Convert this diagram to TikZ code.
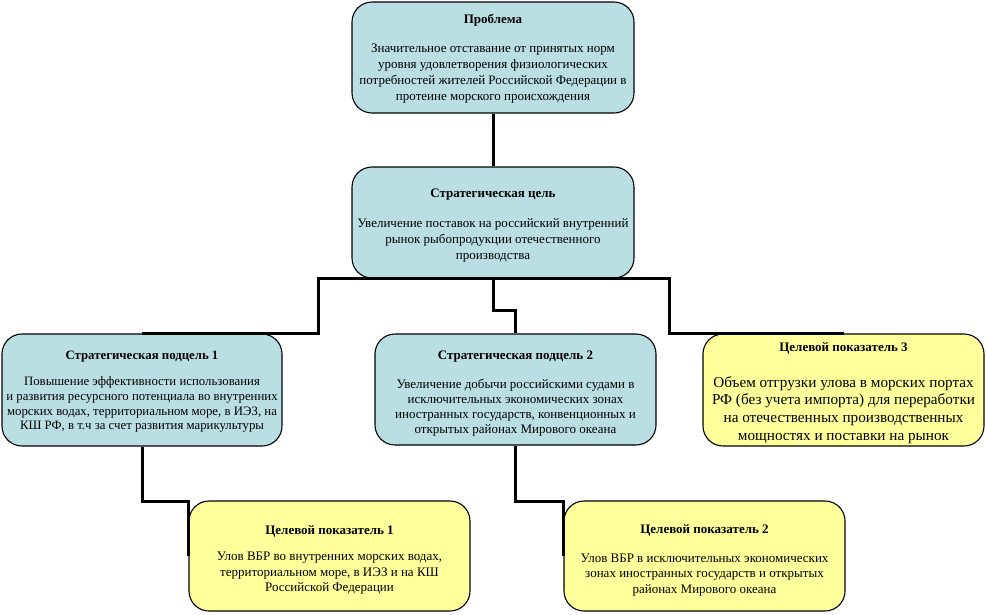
\documentclass[tikz,border=0pt]{standalone}
\usepackage{fontspec}
\setmainfont{Liberation Serif}
\definecolor{boxblue}{RGB}{186,223,227}
\definecolor{boxyellow}{RGB}{255,255,155}
\begin{document}
\begin{tikzpicture}[x=1pt,y=-1pt,
  box/.style={draw=black, line width=1.1pt, rounded corners=20pt, inner sep=0pt},
  bluebox/.style={box, fill=boxblue},
  yellowbox/.style={box, fill=boxyellow},
  txt/.style={align=center, inner sep=0pt, font=\fontsize{13}{15.5}\selectfont},
  conn/.style={draw=black, line width=3pt, line join=miter}]
\useasboundingbox (0,0) rectangle (986,614);

% boxes
\node[bluebox, minimum width=282pt, minimum height=111pt] (prob) at (493,57.5) {};
\node[bluebox, minimum width=282pt, minimum height=111pt] (goal) at (493,222.5) {};
\node[bluebox, minimum width=280pt, minimum height=112pt] (sub1) at (142,390) {};
\node[bluebox, minimum width=281pt, minimum height=111pt] (sub2) at (515.5,389.5) {};
\node[yellowbox, minimum width=281pt, minimum height=112pt] (t3) at (843.5,390) {};
\node[yellowbox, minimum width=281pt, minimum height=110pt] (t1) at (329.5,556) {};
\node[yellowbox, minimum width=281pt, minimum height=110pt] (t2) at (704.5,556) {};

% texts
\node[txt, font=\fontsize{13}{16}\selectfont] (probtext) at ([yshift=-1.5pt]prob.center)
  {\textbf{Проблема}\\[13pt]
   Значительное отставание от принятых норм\\
   уровня удовлетворения физиологических\\
   потребностей жителей Российской Федерации в\\
   протеине морского происхождения};

\node[txt, font=\fontsize{13}{16}\selectfont] (goaltext) at ([yshift=-3pt]goal.center)
  {\textbf{Стратегическая цель}\\[14pt]
   Увеличение поставок на российский внутренний\\
   рынок рыбопродукции отечественного\\
   производства};

\node[txt, font=\fontsize{12.8}{14.7}\selectfont] (sub1text) at ([yshift=-2pt]sub1.center)
  {\textbf{Стратегическая подцель 1}\\[11pt]
   Повышение эффективности использования\\
   и развития ресурсного потенциала во внутренних\\
   морских водах, территориальном море, в ИЭЗ, на\\
   КШ РФ, в т.ч за счет развития марикультуры};

\node[txt, font=\fontsize{13}{14.8}\selectfont] (sub2text) at ([yshift=-4pt]sub2.center)
  {\textbf{Стратегическая подцель 2}\\[14pt]
   Увеличение добычи российскими судами в\\
   исключительных экономических зонах\\
   иностранных государств, конвенционных и\\
   открытых районах Мирового океана};

\node[txt, font=\fontsize{15.2}{17.8}\selectfont] (t3text) at ([yshift=-3pt]t3.center)
  {{\fontsize{13}{15.5}\selectfont\textbf{Целевой показатель 3}}\\[18pt]
   Объем отгрузки улова в морских портах\\
   РФ (без учета импорта) для переработки\\
   на отечественных производственных\\
   мощностях и поставки на рынок};

\node[txt] (t1text) at ([yshift=-4pt]t1.center)
  {\textbf{Целевой показатель 1}\\[10.5pt]
   Улов ВБР во внутренних морских водах,\\
   территориальном море, в ИЭЗ и на КШ\\
   Российской Федерации};

\node[txt] (t2text) at ([yshift=-4.5pt]t2.center)
  {\textbf{Целевой показатель 2}\\[13pt]
   Улов ВБР в исключительных экономических\\
   зонах иностранных государств и открытых\\
   районах Мирового океана};

% connectors
\draw[conn] (prob.south) -- (goal.north);
\draw[conn] (goal.south) -- ++(-175,0) |- (sub1.north);
\draw[conn] (goal.south) -- ++(0,32) -| (sub2.north);
\draw[conn] (goal.south) -- ++(176,0) |- (t3.north);
\draw[conn] (sub1.south) -- ++(0,55) -| (t1.west);
\draw[conn] (sub2.south) -- ++(0,56) -| (t2.west);
\end{tikzpicture}
\end{document}
